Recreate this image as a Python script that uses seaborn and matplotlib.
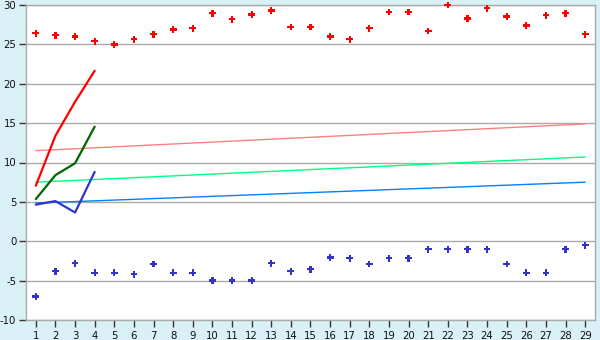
import matplotlib
matplotlib.use("Agg")
import matplotlib.pyplot as plt
import seaborn as sns
import pandas as pd
import numpy as np

# categories
days = list(range(1, 30))

# scatter series
red_points = [26.4, 26.15, 26.0, 25.4, 25.0, 25.65, 26.3, 26.9, 27.05, 28.95,
              28.2, 28.8, 29.3, 27.2, 27.2, 26.0, 25.65, 27.05, 29.1, 29.1,
              26.7, 30.0, 28.3, 29.6, 28.55, 27.4, 28.7, 28.95, 26.3]
blue_points = [-7.0, -3.8, -2.8, -4.0, -4.0, -4.2, -2.9, -4.0, -4.0, -5.0,
               -5.0, -5.0, -2.8, -3.8, -3.55, -2.05, -2.15, -2.9, -2.15, -2.15,
               -1.0, -1.0, -1.0, -1.0, -2.9, -4.0, -4.0, -1.0, -0.5]

# short line series (first four days)
line_days = [1, 2, 3, 4]
red_line = [7.05, 13.4, 17.7, 21.65]
green_line = [5.35, 8.4, 9.9, 14.55]
blue_line = [4.65, 5.1, 3.65, 8.8]

# trend lines (start / end values at day 1 and day 29)
trend_days = [1, 29]
trend_red = [11.5, 14.9]
trend_green = [7.5, 10.7]
trend_blue = [4.85, 7.5]

yticks = [-10, -5, 0, 5, 10, 15, 20, 25, 30]

bg = "#d9f0f7"
grid_c = "#aaaaaa"

sns.set_theme(style="white")
plt.rcParams['font.family'] = ['DejaVu Sans']
plt.rcParams['axes.unicode_minus'] = False

fig = plt.figure(figsize=(6, 3.4), dpi=100, facecolor=bg)
ax = fig.add_axes([26/600, 20/340, 569/600, 315/340])
ax.set_facecolor("white")

for y in yticks:
    ax.axhline(y, color=grid_c, lw=1.0, zorder=0)

trend_df = pd.DataFrame({"x": trend_days * 3,
                         "y": trend_red + trend_green + trend_blue,
                         "s": ["r"] * 2 + ["g"] * 2 + ["b"] * 2})
sns.lineplot(data=trend_df, x="x", y="y", hue="s",
             palette={"r": "#ff8080", "g": "#00ff80", "b": "#0080ff"},
             lw=1.0, legend=False, ax=ax, zorder=2)

line_df = pd.DataFrame({"x": line_days * 3,
                        "y": red_line + green_line + blue_line,
                        "s": ["r"] * 4 + ["g"] * 4 + ["b"] * 4})
sns.lineplot(data=line_df, x="x", y="y", hue="s",
             palette={"r": "#ff0000", "g": "#006600", "b": "#3333cc"},
             lw=1.6, legend=False, ax=ax, zorder=3)

sns.scatterplot(x=days, y=red_points, marker="P", s=24, color="#ff0000",
                edgecolor="none", ax=ax, zorder=4, clip_on=False)
sns.scatterplot(x=days, y=blue_points, marker="P", s=24, color="#3333cc",
                edgecolor="none", ax=ax, zorder=4, clip_on=False)

ax.set_xlim(0.5, 29.5)
ax.set_ylim(-10, 30)
ax.set_xticks(days)
ax.set_xticklabels([str(d) for d in days])
ax.set_yticks(yticks)
ax.set_xlabel("")
ax.set_ylabel("")
for sp in ax.spines.values():
    sp.set_color(grid_c)
    sp.set_linewidth(1.0)
ax.tick_params(axis="both", which="both", length=5, width=1, color="#333333",
               labelsize=7.3, labelcolor="#111111", direction="out", pad=2)
ax.tick_params(axis="x", pad=3)
ax.tick_params(left=True, bottom=True)

fig.savefig("out.png", dpi=100, facecolor=bg)
